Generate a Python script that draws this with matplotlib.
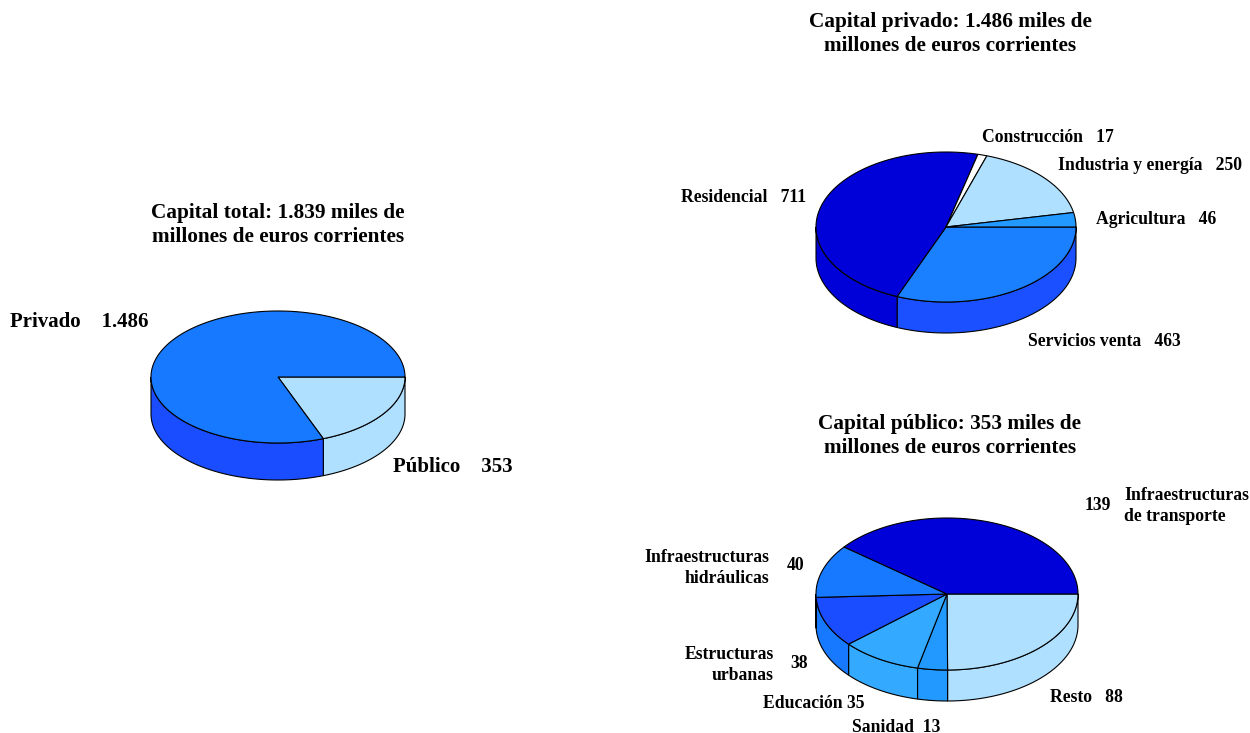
import matplotlib.pyplot as plt
from matplotlib.patches import Polygon
import numpy as np

# datos
total_labels = ['Público', 'Privado']
total_values = [353, 1486]

privado_labels = ['Servicios venta', 'Residencial', 'Construcción', 'Industria y energía', 'Agricultura']
privado_values = [463, 711, 17, 250, 46]

publico_labels = ['Resto', 'Sanidad', 'Educación', 'Estructuras urbanas',
                  'Infraestructuras hidráulicas', 'Infraestructuras de transporte']
publico_values = [88, 13, 35, 38, 40, 139]

# colores (cara superior, lateral)
total_top = ['#b0e0ff', '#1679ff']
total_side = ['#b0e0ff', '#1a4dff']
privado_top = ['#1a80ff', '#0000d8', '#ffffff', '#b0e0ff', '#2299ff']
privado_side = ['#1a50ff', '#0000d8', '#ffffff', '#b0e0ff', '#2299ff']
publico_top = ['#b0e0ff', '#2299ff', '#33aaff', '#1a4dff', '#1679ff', '#0000d8']
publico_side = ['#b0e0ff', '#2299ff', '#33aaff', '#1679ff', '#1679ff', '#0000d8']


def pie3d(ax, values, cx, cy, rx, ry, depth, tops, sides):
    values = np.array(values, dtype=float)
    ends = np.cumsum(values) / values.sum() * 360
    starts = np.concatenate([[0], ends[:-1]])
    # laterales (solo la mitad delantera, 0-180 grados)
    for a0, a1, c in zip(starts, ends, sides):
        s0, s1 = max(a0, 0), min(a1, 180)
        if s1 <= s0:
            continue
        t = np.radians(np.linspace(s0, s1, 80))
        x = cx + rx * np.cos(t)
        y = cy + ry * np.sin(t)
        pts = np.column_stack([np.concatenate([x, x[::-1]]),
                               np.concatenate([y, y[::-1] + depth])])
        ax.add_patch(Polygon(pts, closed=True, facecolor=c, edgecolor='black', lw=0.8))
    # cara superior
    for a0, a1, c in zip(starts, ends, tops):
        t = np.radians(np.linspace(a0, a1, max(int(a1 - a0) * 2, 4)))
        x = np.concatenate([[cx], cx + rx * np.cos(t)])
        y = np.concatenate([[cy], cy + ry * np.sin(t)])
        ax.add_patch(Polygon(np.column_stack([x, y]), closed=True,
                             facecolor=c, edgecolor='black', lw=0.8))


fig = plt.figure(figsize=(12.5, 7.33), dpi=100)
ax = fig.add_axes([0, 0, 1, 1])
ax.set_xlim(0, 1250)
ax.set_ylim(733, 0)
ax.axis('off')

pie3d(ax, total_values, 278, 377, 127, 66, 37, total_top, total_side)
pie3d(ax, privado_values, 946, 227, 130, 75, 31, privado_top, privado_side)
pie3d(ax, publico_values, 947, 594, 131, 76, 31, publico_top, publico_side)

font = dict(family='Liberation Serif', weight='bold', color='black')
tsize = 15.3
lsize = 12.7

ax.text(278, 225, 'Capital total: 1.839 miles de\nmillones de euros corrientes',
        ha='center', va='center', fontsize=tsize, linespacing=1.26, **font)
ax.text(950, 34, 'Capital privado: 1.486 miles de\nmillones de euros corrientes',
        ha='center', va='center', fontsize=tsize, linespacing=1.26, **font)
ax.text(950, 436, 'Capital público: 353 miles de\nmillones de euros corrientes',
        ha='center', va='center', fontsize=tsize, linespacing=1.26, **font)

# etiquetas total
ax.text(10, 322, 'Privado    1.486', ha='left', va='center', fontsize=15, **font)
ax.text(393, 467, 'Público    353', ha='left', va='center', fontsize=15, **font)

# etiquetas privado
ax.text(806, 198, 'Residencial   711', ha='right', va='center', fontsize=lsize, **font)
ax.text(982, 137, 'Construcción   17', ha='left', va='center', fontsize=lsize, **font)
ax.text(1058, 166, 'Industria y energía   250', ha='left', va='center', fontsize=lsize, **font)
ax.text(1096, 220, 'Agricultura   46', ha='left', va='center', fontsize=lsize, **font)
ax.text(1028, 341, 'Servicios venta   463', ha='left', va='center', fontsize=lsize, **font)

# etiquetas publico
ax.text(1124, 506, 'Infraestructuras\nde transporte', ha='left', va='center',
        fontsize=lsize, linespacing=1.3, **font)
ax.text(1085, 505, '139', ha='left', va='center', fontsize=lsize, **font)
ax.text(769, 568, 'Infraestructuras\nhidráulicas', ha='right', va='center',
        fontsize=lsize, linespacing=1.3, **font)
ax.text(787, 565, '40', ha='left', va='center', fontsize=lsize, **font)
ax.text(774, 665, 'Estructuras\nurbanas', ha='right', va='center',
        fontsize=lsize, linespacing=1.3, **font)
ax.text(790, 664, '38', ha='left', va='center', fontsize=lsize, **font)
ax.text(763, 704, 'Educación 35', ha='left', va='center', fontsize=lsize, **font)
ax.text(852, 727, 'Sanidad  13', ha='left', va='center', fontsize=lsize, **font)
ax.text(1050, 697, 'Resto   88', ha='left', va='center', fontsize=lsize, **font)

plt.savefig('out.png', dpi=100)
